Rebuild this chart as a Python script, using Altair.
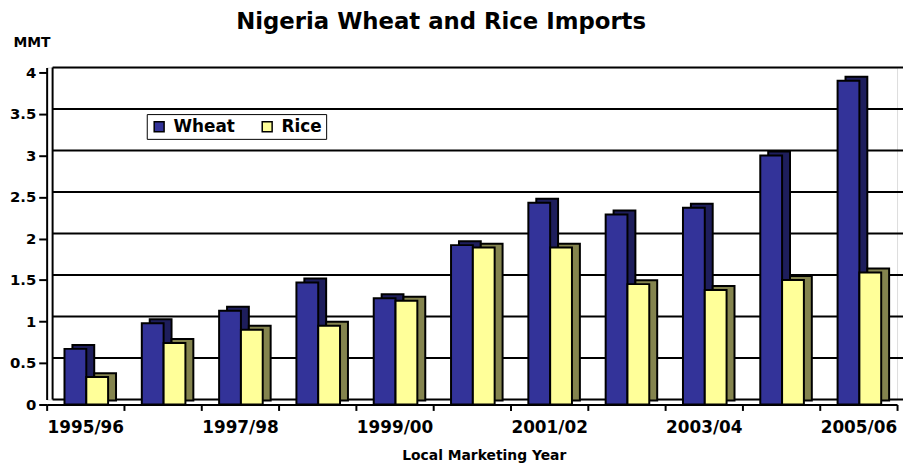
import altair as alt
import pandas as pd

# ---- data ----
years = ["1995/96", "1996/97", "1997/98", "1998/99", "1999/00", "2000/01",
         "2001/02", "2002/03", "2003/04", "2004/05", "2005/06"]
wheat = [0.67, 0.98, 1.13, 1.47, 1.28, 1.92, 2.43, 2.29, 2.37, 3.00, 3.90]
rice = [0.33, 0.74, 0.90, 0.95, 1.25, 1.89, 1.89, 1.45, 1.38, 1.50, 1.59]
series = ["Wheat", "Rice"]
tick_values = [0, 0.5, 1, 1.5, 2, 2.5, 3, 3.5, 4]
shown_years = years[::2]

# ---- styles ----
front_colors = ["#333399", "#FFFF99"]
side_colors = {"Wheat": "#1E1E5C", "Rice": "#84844E"}
FONT = "DejaVu Sans"
W, H = 858, 335
BAR_W = 22
DEPTH_X, DEPTH_Y = 8, -4
FRONT_DY = 5

rows = []
for yr, w, r in zip(years, wheat, rice):
    rows.append({"year": yr, "series": "Wheat", "value": w})
    rows.append({"year": yr, "series": "Rice", "value": r})
df = pd.DataFrame(rows)
grid_df = pd.DataFrame({"v": tick_values})
one_df = pd.DataFrame({"a": [0]})

yscale = alt.Scale(domain=[0, 4], nice=False, zero=True)
yaxis = alt.Axis(
    values=tick_values, format="~g", grid=False,
    domainColor="black", domainWidth=2,
    tickColor="black", tickWidth=2, tickSize=8, tickOffset=FRONT_DY,
    labelFont=FONT, labelFontSize=15, labelFontWeight="bold", labelColor="black",
    labelPadding=3,
    title="MMT", titleAngle=0, titleFont=FONT, titleFontSize=14,
    titleFontWeight="bold", titleColor="black", titleAlign="left",
    titleBaseline="alphabetic", titleX=-34, titleY=-21,
)
label_test = "indexof(" + str(shown_years).replace("'", "\"") + ", datum.value) >= 0 ? datum.label : ''"
xscale = alt.Scale(domain=years, paddingInner=0, paddingOuter=0)
xaxis = alt.Axis(
    grid=False, offset=FRONT_DY, tickBand="extent",
    domainColor="black", domainWidth=2,
    tickColor="black", tickWidth=2, tickSize=6,
    labelExpr=label_test, labelAngle=0,
    labelFont=FONT, labelFontSize=17, labelFontWeight="bold", labelColor="black",
    labelPadding=9,
    title="Local Marketing Year", titleFont=FONT, titleFontSize=14,
    titleFontWeight="bold", titleColor="black",
    titleAnchor="start", titleAlign="center", titleX=441, titleY=55,
    titleBaseline="alphabetic",
)
color_enc = alt.Color(
    "series:N",
    scale=alt.Scale(domain=series, range=front_colors),
    legend=alt.Legend(
        orient="none", legendX=101, legendY=47, direction="horizontal",
        title=None, strokeColor="black", padding=4,
        symbolType="square", symbolSize=100, symbolStrokeColor="black",
        symbolStrokeWidth=1.5, symbolOpacity=1,
        labelFont=FONT, labelFontSize=17, labelFontWeight="bold",
        labelColor="black", labelOffset=6, columnPadding=24,
    ),
)

grid = alt.Chart(grid_df).mark_rule(color="black", strokeWidth=2).encode(
    y=alt.Y("v:Q", scale=yscale, axis=yaxis),
    x=alt.value(6),
    x2=alt.value(W + 6),
)
wall = alt.Chart(one_df).mark_rule(color="black", strokeWidth=2).encode(
    x=alt.value(6), y=alt.datum(0), y2=alt.datum(4)
)


def bars(name, dx, front):
    base = alt.Chart(df).transform_filter(alt.datum.series == name)
    if front:
        mk = base.mark_bar(width=BAR_W, xOffset=dx, yOffset=FRONT_DY, y2Offset=FRONT_DY,
                           stroke="black", strokeWidth=2, opacity=1)
        return mk.encode(
            x=alt.X("year:N", sort=years, scale=xscale, axis=xaxis),
            y=alt.Y("value:Q", scale=yscale, axis=yaxis),
            color=color_enc,
        )
    mk = base.mark_bar(width=BAR_W, xOffset=dx + DEPTH_X, yOffset=FRONT_DY + DEPTH_Y,
                       y2Offset=FRONT_DY + DEPTH_Y, fill=side_colors[name],
                       stroke="black", strokeWidth=2, opacity=1)
    return mk.encode(
        x=alt.X("year:N", sort=years, scale=xscale, axis=xaxis),
        y=alt.Y("value:Q", scale=yscale, axis=yaxis),
    )


chart = alt.layer(
    grid, wall,
    bars("Wheat", -10, False), bars("Wheat", -10, True),
    bars("Rice", 12, False), bars("Rice", 12, True),
).properties(
    width=W, height=H,
    title=alt.TitleParams("Nigeria Wheat and Rice Imports", font=FONT, fontSize=23,
                          fontWeight="bold", color="black", anchor="middle",
                          dx=-31, offset=2),
    autosize=alt.AutoSizeParams(type="none"),
    padding={"left": 39, "top": 58, "right": 6, "bottom": 63},
).configure_view(stroke=None).configure(background="white")

chart.save("out.html", embed_options={"renderer": "svg", "actions": False})
